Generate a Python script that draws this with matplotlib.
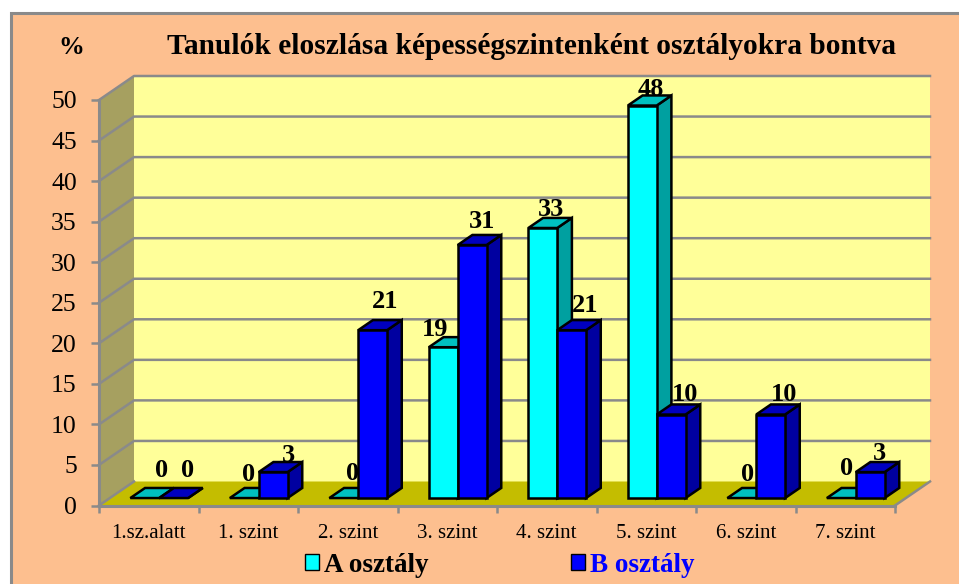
import matplotlib
matplotlib.use("Agg")
import matplotlib.pyplot as plt
from matplotlib.patches import Patch, Polygon, Rectangle

plt.rcParams['font.family'] = ['Liberation Serif', 'DejaVu Serif']

categories = ['1.sz.alatt', '1. szint', '2. szint', '3. szint', '4. szint', '5. szint', '6. szint', '7. szint']
osztaly_a = [0, 0, 0, 18.6, 33.3, 48.4, 0, 0]
osztaly_b = [0, 3.2, 20.7, 31.2, 20.7, 10.3, 10.3, 3.2]
y_ticks = list(range(0, 55, 5))

# label nudges in points, hand placed like in the original
nudge_a = [(12, 19.5), (3, 17), (6, 18), (-6, 12.5), (6, 13), (6, 11.5), (4, 17), (4, 21)]
nudge_b = [(10, 19.5), (11, 12), (9, 21), (7, 17), (10, 18), (10, 14.5), (10, 14.5), (7, 13.5)]

BG = '#FDBF8F'
WALL = '#FFFF99'
SIDE_WALL = '#A6A060'
FLOOR = '#C4BD00'
GRID = '#8A8A8A'
COL_A = ('#00FFFF', '#00C0C0', '#00A0A0')
COL_B = ('#0000FF', '#0000C0', '#0000A0')

# depth of the box, in data units (35 px right, 24 px up)
DX = 35 / 99.5
DY = 24 / 8.11
BAR_W = 0.29
BAR_OFF = 0.206
BAR_F0 = 0.31  # front of the bars inside the depth
BAR_F1 = 0.73  # back of the bars

fig = plt.figure(figsize=(9.59, 5.84), dpi=100, facecolor='white')
# chart area starts a bit inside the picture, only left and top border show
fig.add_artist(Rectangle((10.5 / 959, -0.1), 1.1, 1.1 - 13.5 / 584, transform=fig.transFigure,
                         facecolor=BG, edgecolor=GRID, linewidth=2.2, zorder=-1))
ax = fig.add_axes([99 / 959, (584 - 505.5) / 584, 796 / 959, 405.5 / 584])
ax.set_xlim(0, len(categories))
ax.set_ylim(0, 50)
ax.patch.set_visible(False)


def pt(x, v, f):
    return (x + f * DX, v + f * DY)


def poly(points, color, z, edge='none', lw=0):
    ax.add_patch(Polygon(points, closed=True, facecolor=color, edgecolor=edge, linewidth=lw,
                         zorder=z, clip_on=False, joinstyle='miter'))


n = len(categories)
poly([pt(0, 0, 1), pt(n, 0, 1), pt(n, 50, 1), pt(0, 50, 1)], WALL, 1)
poly([pt(0, 0, 0), pt(0, 0, 1), pt(0, 50, 1), pt(0, 50, 0)], SIDE_WALL, 1)
poly([pt(0, 0, 0), pt(n, 0, 0), pt(n, 0, 1), pt(0, 0, 1)], FLOOR, 1.5)

for v in y_ticks[1:]:
    ax.plot(*zip(pt(0, v, 0), pt(0, v, 1), pt(n, v, 1)), color=GRID, lw=1.8, zorder=2, clip_on=False)
ax.plot(*zip(pt(0, 0, 0), pt(0, 0, 1)), color=GRID, lw=1.8, zorder=2, clip_on=False)
ax.plot(*zip(pt(n, 0, 0), pt(n, 0, 1)), color=GRID, lw=1.8, zorder=2, clip_on=False)


def bar3d(x0, val, cols, z):
    x1 = x0 + BAR_W
    front, top, side = cols
    base = 0
    poly([pt(x1, base, BAR_F0), pt(x1, base, BAR_F1), pt(x1, val, BAR_F1), pt(x1, val, BAR_F0)], side, z, 'black', 1.8)
    poly([pt(x0, val, BAR_F0), pt(x1, val, BAR_F0), pt(x1, val, BAR_F1), pt(x0, val, BAR_F1)], top, z, 'black', 1.8)
    if val > 0:
        poly([pt(x0, base, BAR_F0), pt(x1, base, BAR_F0), pt(x1, val, BAR_F0), pt(x0, val, BAR_F0)], front, z, 'black', 1.8)


for i in range(n):
    xa = i + BAR_OFF
    xb = xa + BAR_W
    bar3d(xa, osztaly_a[i], COL_A, 5 + i * 0.1)
    bar3d(xb, osztaly_b[i], COL_B, 5.05 + i * 0.1)
    for x0, val, nudge in ((xa, osztaly_a[i], nudge_a[i]), (xb, osztaly_b[i], nudge_b[i])):
        ax.annotate(f'{val:.0f}', pt(x0 + BAR_W / 2, val, BAR_F0), xytext=nudge, textcoords='offset points',
                    ha='center', va='center', fontsize=19, fontweight='bold', zorder=4, annotation_clip=False)

ax.set_xticks(range(n + 1))
ax.set_xticklabels([])
ax.set_xticks([i + 0.5 for i in range(n)], categories, minor=True, fontsize=15)
ax.tick_params(axis='x', which='major', length=5, width=1.8, color=GRID)
ax.tick_params(axis='x', which='minor', length=0, pad=13.5)
ax.set_yticks(y_ticks)
ax.tick_params(axis='y', length=6, width=1.8, color=GRID, labelsize=18.5, pad=10)
for s in ('top', 'right'):
    ax.spines[s].set_visible(False)
for s in ('left', 'bottom'):
    ax.spines[s].set_color(GRID)
    ax.spines[s].set_linewidth(2.2)
    ax.spines[s].set_zorder(2.5)

fig.text(71 / 959, 1 - 47 / 584, '%', fontsize=18.5, fontweight='bold', ha='center', va='center')
fig.text(167 / 959, 1 - 46 / 584, 'Tanulók eloszlása képességszintenként osztályokra bontva',
         fontsize=21.2, fontweight='bold', ha='left', va='center')

handles = [Patch(facecolor=COL_A[0], edgecolor='black', linewidth=1),
           Patch(facecolor=COL_B[0], edgecolor='black', linewidth=1)]
fig.legend(handles, ['A osztály', 'B osztály'], ncols=2, frameon=False, loc='center',
           bbox_to_anchor=(500 / 959, 1 - 565 / 584), prop={'size': 19.5, 'weight': 'bold'},
           labelcolor=['black', '#0000FF'], handlelength=0.52, handleheight=0.52, handletextpad=0.19,
           columnspacing=5.25)

fig.savefig('out.png', dpi=100, facecolor='white')
